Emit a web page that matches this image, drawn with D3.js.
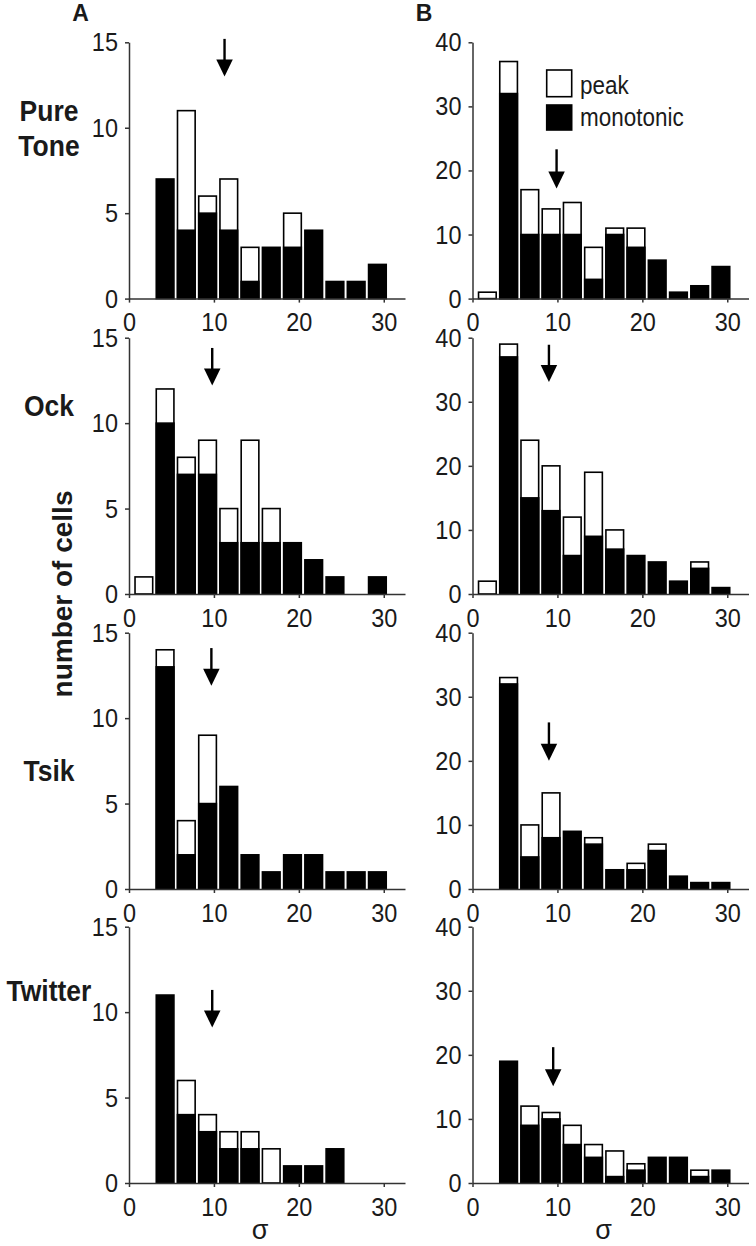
<!DOCTYPE html>
<html><head><meta charset="utf-8">
<script src="https://cdn.jsdelivr.net/npm/d3@7"></script>
<style>
html,body{margin:0;padding:0;background:#fff;}
svg{display:block;}
text{font-family:"Liberation Sans",Arial,sans-serif;fill:#1a1a1a;}
.st{transform-box:fill-box;transform-origin:50% 50%;transform:scaleY(1.12);}
</style></head><body><svg id="chart" width="756" height="1246"></svg>
<script>
// ---- data ----
const sigmaBins = [1.75, 4.25, 6.75, 9.25, 11.75, 14.25, 16.75, 19.25, 21.75, 24.25, 26.75, 29.25];
const stimuli = ["Pure Tone", "Ock", "Tsik", "Twitter"];
const columnLabels = ["A", "B"];
const xTicks = [0, 10, 20, 30];
const yTicksA = [0, 5, 10, 15];
const yTicksB = [0, 10, 20, 30, 40];

// column A (monotonic / peak counts per sigma bin)
const monoA_PureTone = [0, 7, 4, 5, 4, 1, 3, 3, 4, 1, 1, 2];
const peakA_PureTone = [0, 0, 7, 1, 3, 2, 0, 2, 0, 0, 0, 0];
const monoA_Ock      = [0, 10, 7, 7, 3, 3, 3, 3, 2, 1, 0, 1];
const peakA_Ock      = [1, 2, 1, 2, 2, 6, 2, 0, 0, 0, 0, 0];
const monoA_Tsik     = [0, 13, 2, 5, 6, 2, 1, 2, 2, 1, 1, 1];
const peakA_Tsik     = [0, 1, 2, 4, 0, 0, 0, 0, 0, 0, 0, 0];
const monoA_Twitter  = [0, 11, 4, 3, 2, 2, 0, 1, 1, 2, 0, 0];
const peakA_Twitter  = [0, 0, 2, 1, 1, 1, 2, 0, 0, 0, 0, 0];
// column B
const monoB_PureTone = [0, 32, 10, 10, 10, 3, 10, 8, 6, 1, 2, 5];
const peakB_PureTone = [1, 5, 7, 4, 5, 5, 1, 3, 0, 0, 0, 0];
const monoB_Ock      = [0, 37, 15, 13, 6, 9, 7, 6, 5, 2, 4, 1];
const peakB_Ock      = [2, 2, 9, 7, 6, 10, 3, 0, 0, 0, 1, 0];
const monoB_Tsik     = [0, 32, 5, 8, 9, 7, 3, 3, 6, 2, 1, 1];
const peakB_Tsik     = [0, 1, 5, 7, 0, 1, 0, 1, 1, 0, 0, 0];
const monoB_Twitter  = [0, 19, 9, 10, 6, 4, 1, 2, 4, 4, 1, 2];
const peakB_Twitter  = [0, 0, 3, 1, 3, 2, 4, 1, 0, 0, 1, 0];

// arrows (median sigma), in data units
const arrowSigmaA = [11.25, 9.8, 9.7, 9.8];
const arrowTopA   = [15.2, 14.4, 14.1, 11.3];
const arrowTipA   = [13.0, 12.2, 11.9, 9.1];
const arrowSigmaB = [9.9, 9.0, 9.0, 9.5];
const arrowTopB   = [23.3, 38.9, 26.0, 21.2];
const arrowTipB   = [17.2, 33.1, 20.0, 15.1];

const legendLabels = ["peak", "monotonic"];

// ---- layout ----
const colLeft = [129, 472.5];
const rowTop = [42.3, 337.7, 632.7, 926.7];
const plotW = 276, plotH = 256.3;
const binWidth = 2.08;

const monoTables = [[monoA_PureTone, monoA_Ock, monoA_Tsik, monoA_Twitter],
                    [monoB_PureTone, monoB_Ock, monoB_Tsik, monoB_Twitter]];
const peakTables = [[peakA_PureTone, peakA_Ock, peakA_Tsik, peakA_Twitter],
                    [peakB_PureTone, peakB_Ock, peakB_Tsik, peakB_Twitter]];
const arrows = [[arrowSigmaA, arrowTopA, arrowTipA], [arrowSigmaB, arrowTopB, arrowTipB]];
const yMax = [15, 40];
const yTicks = [yTicksA, yTicksB];

const svg = d3.select("#chart");
const axisColor = "#333";

for (let c = 0; c < 2; c++) {
  for (let r = 0; r < 4; r++) {
    const g = svg.append("g").attr("transform", `translate(${colLeft[c]},${rowTop[r]})`);
    const x = d3.scaleLinear().domain([0, 32.5]).range([0, plotW]);
    const y = d3.scaleLinear().domain([0, yMax[c]]).range([plotH, 0]);
    const mono = monoTables[c][r], peak = peakTables[c][r];
    const data = sigmaBins.map((s, i) => ({ s, mono: mono[i], total: mono[i] + peak[i] }));
    const bw = x(binWidth) - x(0);

    g.selectAll("rect.peak").data(data.filter(d => d.total > d.mono)).join("rect")
      .attr("class", "peak")
      .attr("x", d => x(d.s) - bw / 2).attr("width", bw)
      .attr("y", d => y(d.total)).attr("height", d => y(0) - y(d.total))
      .attr("fill", "#fff").attr("stroke", "#000").attr("stroke-width", 1.6);
    g.selectAll("rect.mono").data(data.filter(d => d.mono > 0)).join("rect")
      .attr("class", "mono")
      .attr("x", d => x(d.s) - bw / 2).attr("width", bw)
      .attr("y", d => y(d.mono)).attr("height", d => y(0) - y(d.mono))
      .attr("fill", "#000").attr("stroke", "#000").attr("stroke-width", 1.6);

    const xa = g.append("g").attr("transform", `translate(0,${plotH})`)
      .call(d3.axisBottom(x).tickValues(xTicks).tickSize(4).tickSizeOuter(0).tickPadding(11));
    const ya = g.append("g")
      .call(d3.axisLeft(y).tickValues(yTicks[c]).tickSize(4).tickSizeOuter(0).tickPadding(7));
    [xa, ya].forEach(a => {
      a.attr("font-size", null).attr("font-family", null);
      a.select(".domain").attr("stroke", axisColor).attr("stroke-width", 1.5);
      a.selectAll(".tick line").attr("stroke", axisColor).attr("stroke-width", 1.5);
      a.selectAll(".tick text").attr("class", "st").style("font-size", "23.5px").attr("fill", "#1a1a1a");
    });

    const [as, at, ap] = arrows[c];
    const ax = x(as[r]), yTop = y(at[r]), yTip = y(ap[r]);
    const headH = 17, headW = 16.5;
    g.append("line").attr("x1", ax).attr("x2", ax).attr("y1", yTop).attr("y2", yTip - headH + 2)
      .attr("stroke", "#000").attr("stroke-width", 2.4);
    g.append("path")
      .attr("d", `M${ax - headW / 2},${yTip - headH}L${ax + headW / 2},${yTip - headH}L${ax},${yTip}Z`)
      .attr("fill", "#000");

    if (r === 3) {
      g.append("text").attr("x", 131).attr("y", plotH + 56.5)
        .attr("text-anchor", "middle").style("font-size", "27px").text("σ");
    }

    if (c === 1 && r === 0) {
      const lg = g.append("g").attr("transform", "translate(74.2,27.7)");
      lg.append("rect").attr("x", 0).attr("y", 0).attr("width", 25).attr("height", 26.7)
        .attr("fill", "#fff").attr("stroke", "#000").attr("stroke-width", 1.6);
      lg.append("rect").attr("x", 0).attr("y", 35).attr("width", 25).attr("height", 25)
        .attr("fill", "#000").attr("stroke", "#000").attr("stroke-width", 1.6);
      lg.selectAll("text.lt").data(legendLabels).join("text").attr("class", "st")
        .attr("x", 33.3).attr("y", (d, i) => 23 + i * 32)
        .style("font-size", "22.5px").text(d => d);
    }
  }
}

svg.selectAll("text.col").data(columnLabels).join("text")
  .attr("x", (d, i) => colLeft[i] - 48.5).attr("y", 20.7)
  .attr("text-anchor", "middle").style("font-size", "23px").style("font-weight", "bold")
  .text(d => d);

const rowLabelLines = [["Pure", "Tone"], ["Ock"], ["Tsik"], ["Twitter"]];
const rowLabelBase = [120, 415, 780, 1000];
rowLabelLines.forEach((lines, r) => {
  lines.forEach((ln, k) => {
    svg.append("text").attr("class", "st")
      .attr("x", 49).attr("y", rowLabelBase[r] + k * 35)
      .attr("text-anchor", "middle").style("font-size", "26.5px").style("font-weight", "bold")
      .text(ln);
  });
});

svg.append("text").attr("transform", "translate(72,594) rotate(-90)")
  .attr("text-anchor", "middle").style("font-size", "28px").style("font-weight", "bold")
  .text("number of cells");
</script></body></html>
